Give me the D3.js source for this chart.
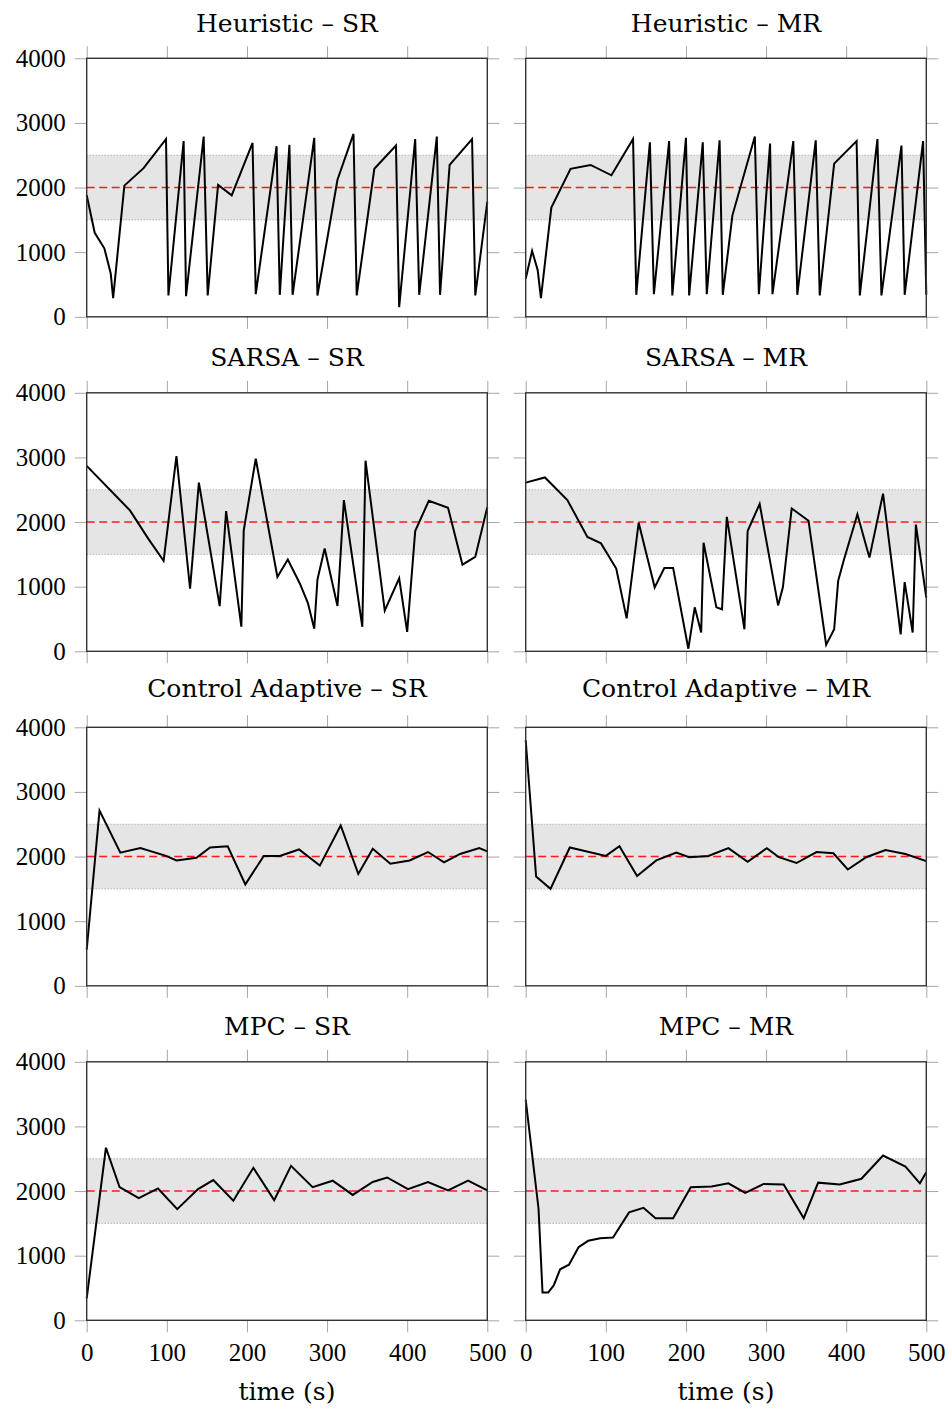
<!DOCTYPE html>
<html>
<head>
<meta charset="utf-8">
<script src="https://cdn.jsdelivr.net/npm/d3@7"></script>
<style>
  html, body { margin: 0; padding: 0; background: #fff; }
  svg { display: block; }
</style>
</head>
<body>
<div id="chart"></div>
<script>
// ---- data (time in s, value) ----
const heuristicSR_t = [0,10,22,30,33,47,71,99,102,121,124,146,151,164,181,207,211,237,241,253,257,284,288,313,333,337,359,386,390,410,415,437,441,453,481,485,500];
const heuristicSR_v = [1880,1300,1060,670,290,2030,2300,2750,330,2720,320,2790,330,2040,1880,2690,350,2640,340,2660,340,2770,330,2120,2830,330,2290,2650,150,2750,340,2790,340,2350,2750,330,1780];

const heuristicMR_t = [0,8,15,19,32,56,81,107,134,138,155,160,179,183,200,204,221,226,242,246,258,286,291,305,308,334,339,362,367,385,413,417,439,444,469,473,496,500];
const heuristicMR_v = [590,1020,720,290,1690,2290,2350,2190,2750,340,2700,350,2720,330,2770,330,2700,350,2730,340,1570,2790,350,2680,350,2720,340,2730,330,2370,2720,330,2750,330,2650,340,2720,340];

const sarsaSR_t = [0,54,77,96,112,129,140,166,174,193,196,211,238,251,266,276,284,288,297,313,321,344,348,372,390,400,410,427,451,469,485,500];
const sarsaSR_v = [2870,2180,1740,1400,3020,970,2610,700,2170,380,1870,2980,1150,1420,1050,750,350,1110,1590,700,2340,380,2950,630,1130,300,1860,2330,2220,1340,1460,2230];

const sarsaMR_t = [0,24,52,77,94,113,126,141,161,173,184,203,211,219,222,238,245,251,273,277,292,315,321,332,353,375,385,390,397,414,429,446,468,473,483,487,500];
const sarsaMR_v = [2610,2690,2340,1770,1670,1280,510,1990,990,1290,1290,40,680,290,1680,680,650,2080,340,1860,2280,710,990,2210,2020,100,340,1090,1410,2120,1450,2440,260,1070,290,1960,830];

const adaptiveSR_t = [0,16,42,67,99,112,137,154,176,198,221,241,265,291,317,339,357,379,403,426,446,466,490,500];
const adaptiveSR_v = [560,2710,2060,2130,2010,1940,1980,2140,2160,1570,2010,2010,2110,1860,2480,1730,2120,1890,1940,2070,1910,2040,2130,2080];

const adaptiveMR_t = [0,13,31,55,100,117,139,163,188,204,228,253,277,301,316,338,363,384,402,425,449,474,500];
const adaptiveMR_v = [3800,1690,1500,2140,2010,2160,1700,1940,2060,1990,2010,2130,1920,2130,1990,1900,2070,2050,1800,1990,2100,2040,1930];

const mpcSR_t = [0,24,41,65,89,113,139,158,183,208,234,255,282,307,332,357,375,401,426,451,476,500];
const mpcSR_v = [340,2670,2060,1890,2040,1720,2030,2170,1850,2360,1860,2390,2060,2160,1940,2140,2210,2030,2140,2010,2160,2010];

const mpcMR_t = [0,16,21,28,35,43,54,66,78,93,109,129,147,162,184,206,232,253,274,297,322,347,365,392,419,446,474,492,500];
const mpcMR_v = [3410,1730,430,430,540,790,860,1130,1230,1270,1280,1670,1740,1580,1580,2060,2070,2120,1970,2110,2100,1580,2130,2100,2190,2550,2380,2120,2290];

const titles = [
  "Heuristic – SR", "Heuristic – MR",
  "SARSA – SR", "SARSA – MR",
  "Control Adaptive – SR", "Control Adaptive – MR",
  "MPC – SR", "MPC – MR"
];
const series = [
  [heuristicSR_t, heuristicSR_v], [heuristicMR_t, heuristicMR_v],
  [sarsaSR_t, sarsaSR_v], [sarsaMR_t, sarsaMR_v],
  [adaptiveSR_t, adaptiveSR_v], [adaptiveMR_t, adaptiveMR_v],
  [mpcSR_t, mpcSR_v], [mpcMR_t, mpcMR_v]
];
const xTicks = [0, 100, 200, 300, 400, 500];
const yTicks = [0, 1000, 2000, 3000, 4000];
const target = 2000;
const band = [1500, 2500];
const xLabel = "time (s)";

// ---- layout ----
const W = 948, H = 1410;
const colX = [86.7, 525.7];
const rowY0 = 58.3, rowStep = 334.5;
const pw = 400.6, ph = 258.5;
const tickLen = 12;
const serif = "'DejaVu Serif', serif";
const numFont = "'Liberation Serif', 'Times New Roman', serif";

const svg = d3.select("#chart").append("svg")
  .attr("width", W).attr("height", H);

series.forEach(([ts, vs], i) => {
  const col = i % 2, row = Math.floor(i / 2);
  const g = svg.append("g")
    .attr("transform", `translate(${colX[col]},${rowY0 + row * rowStep})`);

  const x = d3.scaleLinear().domain([0, 500]).range([0, pw]);
  const y = d3.scaleLinear().domain([0, 4000]).range([ph, 0]);

  // tolerance band
  g.append("rect")
    .attr("x", 0).attr("width", pw)
    .attr("y", y(band[1])).attr("height", y(band[0]) - y(band[1]))
    .attr("fill", "#e5e5e5");
  band.forEach(b => {
    g.append("line")
      .attr("x1", 0).attr("x2", pw).attr("y1", y(b)).attr("y2", y(b))
      .attr("stroke", "#9a9a9a").attr("stroke-width", 1)
      .attr("stroke-dasharray", "1,2");
  });

  // target
  g.append("line")
    .attr("x1", 0).attr("x2", pw).attr("y1", y(target)).attr("y2", y(target))
    .attr("stroke", "#ff1a1a").attr("stroke-width", 1.5)
    .attr("stroke-dasharray", "8,4.5");

  // series
  const pts = ts.map((t, k) => [t, vs[k]]);
  g.append("path")
    .datum(pts)
    .attr("fill", "none")
    .attr("stroke", "#000")
    .attr("stroke-width", 2)
    .attr("stroke-linejoin", "miter")
    .attr("d", d3.line().x(d => x(d[0])).y(d => y(d[1])));

  // outside ticks on all four sides
  const axStyle = sel => {
    sel.select(".domain").remove();
    sel.selectAll(".tick line").attr("stroke", "#a6a6a6").attr("stroke-width", 1);
    sel.selectAll(".tick text")
      .attr("font-family", numFont).attr("font-size", 25).attr("fill", "#000");
  };
  const showX = row === 3;
  const showY = col === 0;

  g.append("g").attr("transform", `translate(0,${ph})`)
    .call(d3.axisBottom(x).tickValues(xTicks).tickSize(tickLen).tickPadding(10)
      .tickFormat(showX ? d3.format("d") : ""))
    .call(axStyle)
    .selectAll(".tick text").attr("dy", "0.75em");
  g.append("g")
    .call(d3.axisTop(x).tickValues(xTicks).tickSize(tickLen).tickFormat(""))
    .call(axStyle);
  g.append("g")
    .call(d3.axisLeft(y).tickValues(yTicks).tickSize(tickLen).tickPadding(9)
      .tickFormat(showY ? d3.format("d") : ""))
    .call(axStyle);
  g.append("g").attr("transform", `translate(${pw},0)`)
    .call(d3.axisRight(y).tickValues(yTicks).tickSize(tickLen).tickFormat(""))
    .call(axStyle);

  // frame
  g.append("rect")
    .attr("x", 0).attr("y", 0).attr("width", pw).attr("height", ph)
    .attr("fill", "none").attr("stroke", "#333").attr("stroke-width", 1.4);

  // title (pushed up when it has descenders, like a south-anchored node)
  const hasDesc = /[gjpqy]/.test(titles[i]);
  g.append("text")
    .attr("x", pw / 2).attr("y", -26.5 - (hasDesc ? 4 : 0))
    .attr("text-anchor", "middle")
    .attr("font-family", serif).attr("font-size", 25)
    .attr("fill", "#000")
    .text(titles[i]);

  if (showX) {
    g.append("text")
      .attr("x", pw / 2).attr("y", ph + 80)
      .attr("text-anchor", "middle")
      .attr("font-family", serif).attr("font-size", 25)
      .attr("fill", "#000")
      .text(xLabel);
  }
});
</script>
</body>
</html>
